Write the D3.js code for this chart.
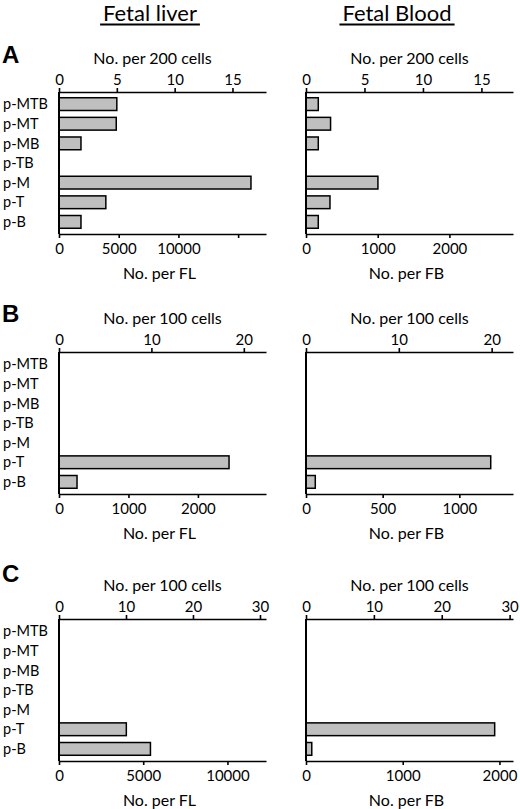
<!DOCTYPE html>
<html>
<head>
<meta charset="utf-8">
<script src="https://cdn.jsdelivr.net/npm/d3@7"></script>
<style>
    body { margin: 0; background: #fff; }
    svg { display: block; }
    .axis path, .axis line { stroke: #000; stroke-width: 1.6px; }
    .axis text { font-family: Lato, sans-serif; font-size: 15px; fill: #000; }
    .lbl { font-family: Lato, sans-serif; font-size: 14.5px; fill: #000; }
    .ttl { font-family: Lato, sans-serif; font-size: 22px; fill: #000; }
    .letter { font-family: "Liberation Sans", Arial, sans-serif; font-weight: bold; font-size: 24px; fill: #000; }
    .bar { fill: #bfbfbf; stroke: #000; stroke-width: 1.5px; }
</style>
</head>
<body>
<svg width="520" height="809"></svg>
<script>

    var categories = ["p-MTB", "p-MT", "p-MB", "p-TB", "p-M", "p-T", "p-B"];

    var liverA = [5, 4.95, 1.9, 0, 16.6, 4.05, 1.9];
    var bloodA = [1.05, 2.1, 1.05, 0, 6.15, 2.05, 1.05];
    var liverB = [0, 0, 0, 0, 0, 18.4, 1.95];
    var bloodB = [0, 0, 0, 0, 0, 19.9, 1.0];
    var liverC = [0, 0, 0, 0, 0, 10.05, 13.65];
    var bloodC = [0, 0, 0, 0, 0, 27.8, 0.85];

    // axis extents (top = per cells, bottom = per organ)
    var topMaxLiver = [17.9, 22.4, 30.9];
    var topMaxBlood = [17.7, 22.3, 30.5];
    var botMaxLiver = [17333, 2980, 12290];
    var botMaxBlood = [2887, 1350, 2140];

    var topTicks = [[0, 5, 10, 15], [0, 10, 20], [0, 10, 20, 30]];
    var botTicksLiver = [[0, 5000, 10000, 15000], [0, 1000, 2000], [0, 5000, 10000]];
    var botTicksBlood = [[0, 1000, 2000], [0, 500, 1000], [0, 1000, 2000]];
    var hiddenTickLabels = [15000];

    var letters = ["A", "B", "C"];
    var topTitles = ["No. per 200 cells", "No. per 100 cells", "No. per 100 cells"];
    var columnTitles = ["Fetal liver", "Fetal Blood"];
    var botTitles = ["No. per FL", "No. per FB"];

    var svg = d3.select("svg");

    var rowTop = [92, 352, 619],
        rowH = 142,
        letterY = [63, 322, 582],
        cols = [{x0: 59, x1: 266}, {x0: 306, x1: 513}];

    var panels = [
        [liverA, bloodA], [liverB, bloodB], [liverC, bloodC]
    ];

    // column headers with underline
    var headX = [150, 397];
    columnTitles.forEach(function (t, i) {
        var txt = svg.append("text")
            .attr("class", "ttl")
            .attr("x", headX[i])
            .attr("y", 21)
            .attr("text-anchor", "middle")
            .text(t);
        var w = txt.node().getComputedTextLength();
        svg.append("line")
            .attr("x1", headX[i] - w / 2 - 3)
            .attr("x2", headX[i] + w / 2 + 3)
            .attr("y1", 24.5).attr("y2", 24.5)
            .attr("stroke", "#000")
            .attr("stroke-width", 2);
    });

    panels.forEach(function (pair, r) {
        var top = rowTop[r], bottom = top + rowH;

        svg.append("text")
            .attr("class", "letter")
            .attr("x", 2)
            .attr("y", letterY[r])
            .text(letters[r]);

        var y = d3.scaleBand()
            .domain(categories)
            .range([top + 2, bottom - 2])
            .paddingInner(0.35)
            .paddingOuter(0.19);

        // category labels, left side only
        svg.append("g").selectAll("text")
            .data(categories)
            .enter().append("text")
            .attr("class", "lbl")
            .attr("x", 3)
            .attr("y", function (d) { return y(d) + y.bandwidth() / 2; })
            .attr("dy", "0.36em")
            .text(function (d) { return d; });

        pair.forEach(function (values, c) {
            var col = cols[c];
            var xTop = d3.scaleLinear()
                .domain([0, c === 0 ? topMaxLiver[r] : topMaxBlood[r]])
                .range([col.x0, col.x1]);
            var xBot = d3.scaleLinear()
                .domain([0, c === 0 ? botMaxLiver[r] : botMaxBlood[r]])
                .range([col.x0, col.x1]);

            var g = svg.append("g");

            g.selectAll(".bar")
                .data(values.map(function (v, i) { return {k: categories[i], v: v}; })
                    .filter(function (d) { return d.v > 0; }))
                .enter().append("rect")
                .attr("class", "bar")
                .attr("x", xTop(0))
                .attr("y", function (d) { return y(d.k); })
                .attr("width", function (d) { return xTop(d.v) - xTop(0); })
                .attr("height", y.bandwidth());

            g.append("g")
                .attr("class", "axis")
                .attr("transform", "translate(0," + top + ")")
                .call(d3.axisTop(xTop)
                    .tickValues(topTicks[r])
                    .tickSize(4)
                    .tickSizeOuter(0)
                    .tickPadding(3));

            g.append("g")
                .attr("class", "axis")
                .attr("transform", "translate(0," + bottom + ")")
                .call(d3.axisBottom(xBot)
                    .tickValues(c === 0 ? botTicksLiver[r] : botTicksBlood[r])
                    .tickSize(4)
                    .tickSizeOuter(0)
                    .tickPadding(5)
                    .tickFormat(function (d) {
                        return hiddenTickLabels.indexOf(d) > -1 ? "" : d;
                    }));

            // vertical baseline
            g.append("line")
                .attr("x1", xTop(0)).attr("x2", xTop(0))
                .attr("y1", top).attr("y2", bottom)
                .attr("stroke", "#000")
                .attr("stroke-width", 2);

            g.append("text")
                .attr("class", "lbl")
                .attr("x", (col.x0 + col.x1) / 2 - (r === 0 && c === 0 ? 10 : 0))
                .attr("y", top - 28)
                .attr("text-anchor", "middle")
                .style("font-size", "16px")
                .text(topTitles[r]);

            g.append("text")
                .attr("class", "lbl")
                .attr("x", (col.x0 + col.x1) / 2 - 3)
                .attr("y", bottom + 45)
                .attr("text-anchor", "middle")
                .style("font-size", "16px")
                .text(botTitles[c]);
        });
    });

</script>
</body>
</html>
